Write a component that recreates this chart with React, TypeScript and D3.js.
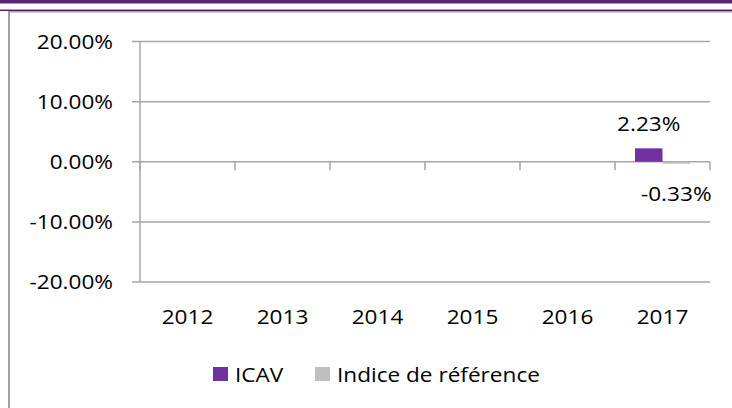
import * as d3 from 'd3'

const years = ['2012', '2013', '2014', '2015', '2016', '2017']
const icav: (number | null)[] = [null, null, null, null, null, 0.0223]
const indice: (number | null)[] = [null, null, null, null, null, -0.0033]
const yTicks = [0.2, 0.1, 0, -0.1, -0.2]
const seriesNames = ['ICAV', 'Indice de référence']
const seriesColors = ['#7030A0', '#BFBFBF']

const W = 732
const H = 408
const FONT = '"Open Sans", sans-serif'
const SX = 1.13 // the source text is a bit wider than it is tall

function Label({ x, y, anchor = 'middle', children }: { x: number; y: number; anchor?: string; children: any }) {
  return (
    <text
      transform={`translate(${x},${y}) scale(${SX},1)`}
      textAnchor={anchor}
      fontFamily={FONT}
      fontSize={20}
      fill="#000"
    >
      {children}
    </text>
  )
}

export default function App() {
  const left = 140
  const right = 710
  const y = d3.scaleLinear().domain([-0.2, 0.2]).range([282, 41.5])
  const x = d3.scaleBand<string>().domain(years).range([left, right]).padding(0)
  const inner = d3.scaleBand<number>().domain([0, 1]).range([0, x.bandwidth()]).paddingInner(0).paddingOuter(0.727)
  const fmt = (v: number) => (v * 100).toFixed(2) + '%'
  const y0 = y(0)
  const series = [icav, indice]
  const grid = '#A6A6A6'

  return (
    <svg width={W} height={H} style={{ position: 'absolute', left: 0, top: 0, background: '#fff' }}>
      {/* page frame */}
      <rect x={0} y={0} width={W} height={3.5} fill="#5B2078" />
      <line x1={0} x2={W} y1={10.2} y2={10.2} stroke="#5B2078" strokeWidth={1.5} />
      <line x1={8} x2={W} y1={11.7} y2={11.7} stroke="#A0A0A0" strokeWidth={1.5} />
      <line x1={9} x2={9} y1={11} y2={H} stroke="#A0A0A0" strokeWidth={2} />

      {/* gridlines + y ticks */}
      {yTicks.map(t => (
        <g key={t}>
          <line x1={left - 8} x2={right} y1={y(t)} y2={y(t)} stroke={grid} strokeWidth={1.5} />
          <Label x={113} y={y(t) + 7} anchor="end">{fmt(t)}</Label>
        </g>
      ))}
      <line x1={left} x2={left} y1={y(0.2)} y2={y(-0.2)} stroke={grid} strokeWidth={1.5} />

      {/* x axis ticks */}
      {[...years.map(d => x(d)!), right].map((bx, i) => (
        <line key={i} x1={bx} x2={bx} y1={y0} y2={y0 + 8.5} stroke={grid} strokeWidth={1.5} />
      ))}

      {/* bars */}
      {series.map((vals, si) =>
        vals.map((v, i) => {
          if (v == null) return null
          const bx = x(years[i])! + inner(si)!
          const top = Math.min(y(v), y0)
          const h = Math.abs(y(v) - y0)
          return <rect key={`${si}-${i}`} x={bx} y={top} width={inner.bandwidth()} height={h} fill={seriesColors[si]} />
        })
      )}

      {/* data labels */}
      {series.map((vals, si) =>
        vals.map((v, i) => {
          if (v == null) return null
          const cx = x(years[i])! + inner(si)! + inner.bandwidth() / 2
          const ly = v >= 0 ? y(v) - 17.5 : y(v) + 37
          return <Label key={`l${si}-${i}`} x={cx} y={ly}>{fmt(v)}</Label>
        })
      )}

      {/* year labels */}
      {years.map(d => (
        <Label key={d} x={x(d)! + x.bandwidth() / 2} y={324}>{d}</Label>
      ))}

      {/* legend */}
      <rect x={213} y={367} width={15} height={14} fill={seriesColors[0]} />
      <Label x={235} y={382} anchor="start">{seriesNames[0]}</Label>
      <rect x={315} y={367} width={15} height={14} fill={seriesColors[1]} />
      <Label x={337} y={382} anchor="start">{seriesNames[1]}</Label>
    </svg>
  )
}
